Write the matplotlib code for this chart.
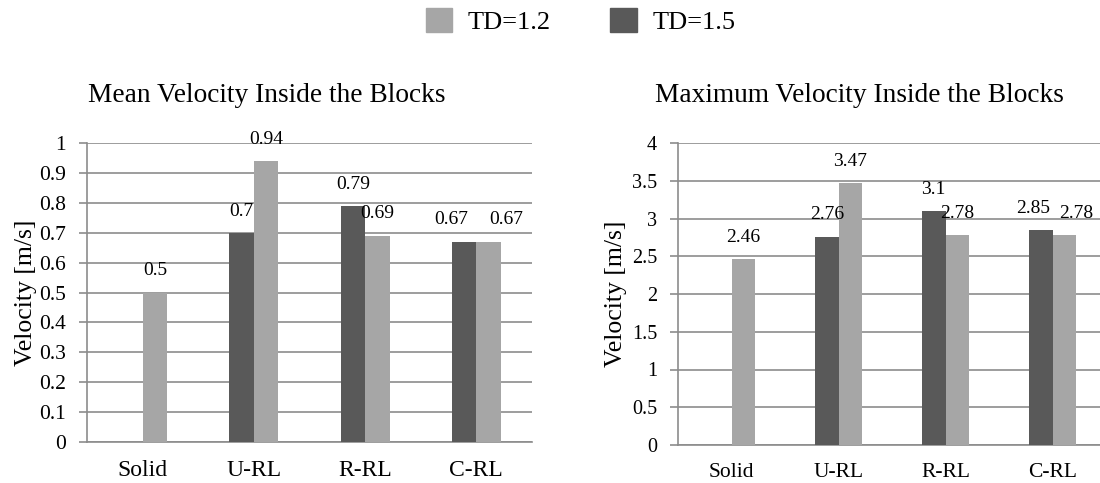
import matplotlib.pyplot as plt
import numpy as np
from matplotlib.patches import Patch

plt.rcParams['font.family'] = ['Liberation Serif', 'DejaVu Serif']

categories = ["Solid", "U-RL", "R-RL", "C-RL"]
mean_td15 = [np.nan, 0.70, 0.79, 0.67]
mean_td12 = [0.50, 0.94, 0.69, 0.67]
max_td15 = [np.nan, 2.76, 3.10, 2.85]
max_td12 = [2.46, 3.47, 2.78, 2.78]
mean_labels_15 = ["", "0.7", "0.79", "0.67"]
mean_labels_12 = ["0.5", "0.94", "0.69", "0.67"]
max_labels_15 = ["", "2.76", "3.1", "2.85"]
max_labels_12 = ["2.46", "3.47", "2.78", "2.78"]

DARK = "#595959"
LIGHT = "#a6a6a6"
GRID = "#8c8c8c"
W, H = 1100, 483


def draw_panel(ax, td15, td12, lab15, lab12, ymax, step, tick_fs, cat_fs,
               shift15, shift12, ylab_x):
    x = np.arange(len(categories))
    w = 0.22
    b15 = ax.bar(x - w / 2, td15, w, color=DARK, zorder=3)
    b12 = ax.bar(x + w / 2, td12, w, color=LIGHT, zorder=3)
    # labels nudged sideways where they would collide (like the original)
    for bars, vals, labs, shifts in ((b15, td15, lab15, shift15),
                                     (b12, td12, lab12, shift12)):
        for rect, v, s, dx in zip(bars, vals, labs, shifts):
            if np.isnan(v):
                continue
            ax.annotate(s, (rect.get_x() + rect.get_width() / 2, v),
                        xytext=(dx, 9.5), textcoords="offset points",
                        ha="center", va="bottom", fontsize=14)
    ticks = np.arange(0, ymax + step / 2, step)
    ax.set_xlim(-0.5, len(categories) - 0.5)
    ax.set_ylim(0, ymax)
    ax.set_yticks(ticks)
    ax.set_yticklabels([f"{t:g}" for t in ticks])
    ax.set_xticks(x)
    ax.set_xticklabels(categories)
    ax.yaxis.grid(True, color=GRID, linewidth=1.2, zorder=0)
    ax.set_axisbelow(True)
    for s in ("top", "right"):
        ax.spines[s].set_visible(False)
    for s in ("left", "bottom"):
        ax.spines[s].set_color(GRID)
        ax.spines[s].set_linewidth(1.2)
    ax.tick_params(axis="y", length=6, color=GRID, width=1.2, labelsize=tick_fs, pad=9)
    ax.tick_params(axis="x", length=0, labelsize=cat_fs, pad=13)
    ax.set_ylabel("Velocity [m/s]", fontsize=18.5)
    ax.yaxis.set_label_coords(ylab_x, 0.5)


fig = plt.figure(figsize=(11, 4.83), dpi=100)
ax1 = fig.add_axes([87 / W, 41 / H, 445 / W, 299 / H])
ax2 = fig.add_axes([678 / W, 38 / H, 428 / W, 302 / H])

draw_panel(ax1, mean_td15, mean_td12, mean_labels_15, mean_labels_12,
           1.0, 0.1, 15.5, 17, [0, 0, 0, -9], [0, 0, 0, 13],
           (23 + 14 - 87) / 445)
draw_panel(ax2, max_td15, max_td12, max_labels_15, max_labels_12,
           4.0, 0.5, 14.5, 15.5, [0, 0, 0, -5.5], [0, 0, 0, 8.5],
           (613 + 14 - 678) / 428)

fig.text(267 / W, 1 - 96 / H, "Mean Velocity Inside the Blocks",
         ha="center", va="center", fontsize=19.7)
fig.text(859 / W, 1 - 96 / H, "Maximum Velocity Inside the Blocks",
         ha="center", va="center", fontsize=19.7)

handles = [Patch(color=LIGHT, label="TD=1.2"), Patch(color=DARK, label="TD=1.5")]
fig.legend(handles=handles, loc="center", bbox_to_anchor=(580.5 / W, 1 - 21 / H),
           ncol=2, frameon=False, fontsize=19, handlelength=1.0, handleheight=1.0,
           columnspacing=2.25, handletextpad=0.6)

fig.savefig("out.png", dpi=100)
